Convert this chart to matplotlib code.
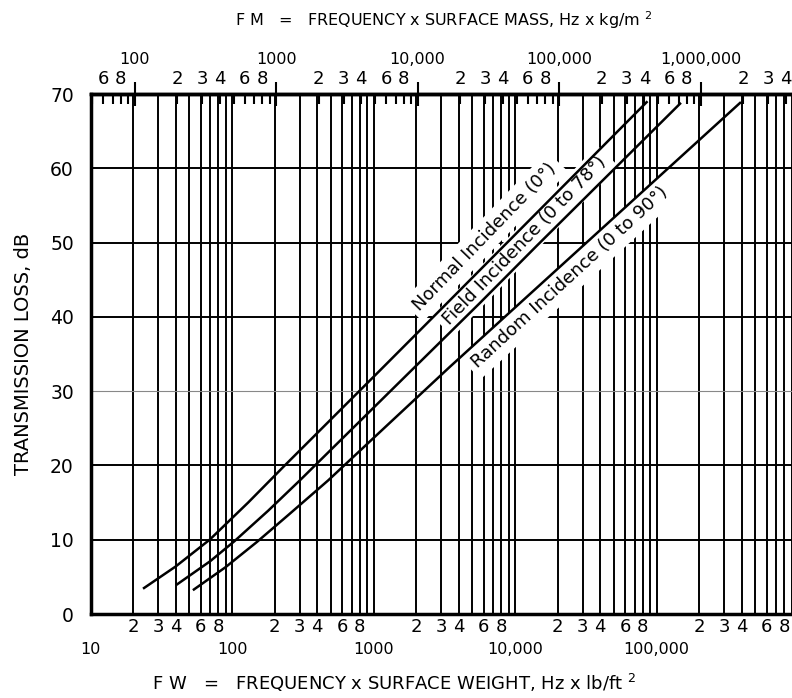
import matplotlib
matplotlib.use("Agg")
import matplotlib.pyplot as plt

# data (FW in Hz x lb/ft^2, TL in dB)
normal_fw = [23.9, 40, 69.5, 130, 236, 1112, 3290, 85100]
normal_tl = [3.5, 6.4, 10.0, 15.0, 20.0, 32.8, 41.8, 68.9]
field_fw = [41, 70, 104, 180, 302, 1900, 5600, 14300, 146600]
field_tl = [4.0, 7.1, 9.8, 13.9, 18.0, 33.0, 41.8, 49.6, 68.7]
random_fw = [53.8, 90, 150, 249, 479, 1200, 3475, 32000, 389000]
random_tl = [3.3, 6.3, 9.7, 13.3, 18.0, 25.1, 33.3, 50.0, 68.8]

kg_per_lb = 4.88  # FM = 4.88 * FW
decades = [10, 100, 1000, 10000, 100000]
bottom_major = [10, 100, 1000, 10000, 100000]
bottom_major_labels = ["10", "100", "1000", "10,000", "100,000"]
top_major = [100, 1000, 10000, 100000, 1000000]
top_major_labels = ["100", "1000", "10,000", "100,000", "1,000,000"]
minor_digits = [2, 3, 4, 5, 6, 7, 8, 9]
labelled_digits = [2, 3, 4, 6, 8]
y_ticks = [0, 10, 20, 30, 40, 50, 60, 70]

fig = plt.figure(figsize=(7.92, 6.98), dpi=100)
ax = fig.add_axes([90.5 / 792, 84 / 698, (792 - 90.5) / 792, 520 / 698])
ax.set_xscale("log")
ax.set_xlim(10, 906000)
ax.set_ylim(0, 70)

# vertical grid: bottom scale 2..10 every decade
for dec in decades:
    for d in minor_digits + [10]:
        ax.axvline(dec * d, color="black", lw=1.4, zorder=1)
for y in y_ticks[1:-1]:
    if y == 30:
        ax.axhline(y, color="#888888", lw=0.8, zorder=1)
    else:
        ax.axhline(y, color="black", lw=1.4, zorder=1)

ax.plot(normal_fw, normal_tl, color="black", lw=1.8, zorder=5)
ax.plot(field_fw, field_tl, color="black", lw=1.8, zorder=5)
ax.plot(random_fw, random_tl, color="black", lw=1.8, zorder=5)

box = dict(facecolor="white", edgecolor="none", pad=4)
ax.text(6140, 50.8, "Normal Incidence (0°)", rotation=46, ha="center", va="center",
        fontsize=13, bbox=box, zorder=4)
ax.text(11780, 50.2, "Field Incidence (0 to 78°)", rotation=46, ha="center", va="center",
        fontsize=13, bbox=box, zorder=4)
ax.text(24500, 45.3, "Random Incidence (0 to 90°)", rotation=42.5, ha="center", va="center",
        fontsize=13, bbox=box, zorder=4)

# spines
for s in ["left", "top", "bottom"]:
    ax.spines[s].set_linewidth(2.5)
ax.spines["right"].set_visible(False)

# y axis
ax.set_yticks(y_ticks)
ax.tick_params(axis="y", length=0, pad=12, labelsize=13.5)
ax.set_ylabel("TRANSMISSION LOSS, dB", fontsize=14, labelpad=12)

# bottom axis
ax.set_xticks(bottom_major, bottom_major_labels)
minor_pos = [dec * d for dec in decades for d in minor_digits]
minor_lab = [str(d) if d in labelled_digits else "" for dec in decades for d in minor_digits]
ax.set_xticks(minor_pos, minor_lab, minor=True)
ax.tick_params(axis="x", which="major", length=0, pad=20, labelsize=11.5)
ax.tick_params(axis="x", which="minor", length=0, pad=3, labelsize=13)
fig.text(394 / 792, 1 - 683 / 698, "F W   =   FREQUENCY x SURFACE WEIGHT, Hz x lb/ft $^2$",
         ha="center", va="center", fontsize=13)

# top axis (FM)
sec = ax.secondary_xaxis("top", functions=(lambda x: x * kg_per_lb, lambda x: x / kg_per_lb))
sec.set_xticks(top_major, top_major_labels)
top_minor = [dec * d for dec in decades + [1000000] for d in minor_digits]
top_minor = [v for v in top_minor if 49 < v < 4.5e6]
top_minor_lab = [str(v)[0] if int(str(v)[0]) in labelled_digits else "" for v in top_minor]
sec.set_xticks(top_minor, top_minor_lab, minor=True)
sec.tick_params(axis="x", which="major", direction="inout", length=17, width=1.5,
                pad=11, labelsize=11.5)
sec.tick_params(axis="x", which="minor", direction="in", length=7, width=1.5,
                pad=4, labelsize=13)
sec.spines["top"].set_linewidth(2.5)
fig.text(444 / 792, 1 - 20 / 698, "F M   =   FREQUENCY x SURFACE MASS, Hz x kg/m $^2$",
         ha="center", va="center", fontsize=11.5)

fig.savefig("out.png", dpi=100)
